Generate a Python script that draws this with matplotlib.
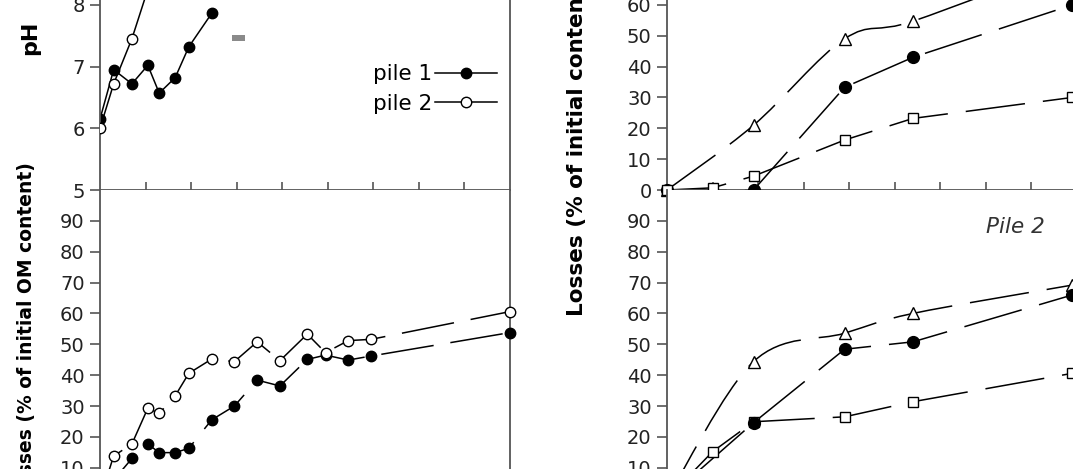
import numpy as np
import matplotlib
matplotlib.use('Agg')
import matplotlib.pyplot as plt
from matplotlib.path import Path
from matplotlib.patches import PathPatch, Rectangle
from matplotlib.lines import Line2D

plt.rcParams['font.family'] = ['DejaVu Sans']
plt.rcParams['lines.scale_dashes'] = False

# ---- left figure: pH and OM losses of the two piles (days of composting) ----
days_left = [0, 6, 14, 21, 26, 33, 39, 49, 59, 69, 79, 91, 99, 109, 119, 180]
ph_pile1 = [6.15, 6.95, 6.72, 7.02, 6.57, 6.82, 7.32, 7.86]
ph_pile2 = [6.0, 6.72, 7.45, 8.25]
om_pile1 = [0, 6, 13, 17.7, 14.9, 14.9, 16.3, 25.5, 30, 38.4, 36.5, 45.1, 46.5, 44.9, 46.2, 53.8]
om_pile2 = [0, 13.8, 17.7, 29.3, 27.6, 33.3, 40.6, 45.2, 44.4, 50.8, 44.7, 53.3, 47.3, 51.2, 51.6, 60.6]

# ---- right figure: losses (% of initial content), three components ----
days_sq = [0, 20, 38, 78, 108, 178]
days_tri = [0, 38, 78, 108, 178]
tri_pile1 = [0, 21, 49, 54.7, 74]
dot_pile1 = [0, 0, 33.3, 43, 60]
sq_pile1 = [0, 0.7, 4.5, 16.2, 23.2, 30]
tri_pile2 = [0, 44.4, 53.6, 60, 69.2]
dot_pile2 = [0, 24.6, 48.4, 50.8, 66]
sq_pile2 = [0, 15.2, 24.9, 26.5, 31.4, 40.6]

ph_ticks = [5, 6, 7, 8, 9]
loss_ticks = list(range(0, 100, 10))
day_ticks = list(range(20, 180, 20))

SPINE = '#555555'
W, H = 1073, 469


def box(x0, x1, y_top, y_bot):
    # pixel box -> figure fraction
    return [x0 / W, 1 - y_bot / H, (x1 - x0) / W, (y_bot - y_top) / H]


def smooth_path(x, y):
    # excel-like smoothed line (cubic bezier through the points)
    p = np.column_stack([x, y]).astype(float)
    n = len(p)
    verts = [p[0]]
    codes = [Path.MOVETO]
    for i in range(n - 1):
        p0 = p[i - 1] if i > 0 else p[i]
        p3 = p[i + 2] if i + 2 < n else p[i + 1]
        verts += [p[i] + (p[i + 1] - p0) / 6, p[i + 1] - (p3 - p[i]) / 6, p[i + 1]]
        codes += [Path.CURVE4] * 3
    return Path(verts, codes)


def dashed(ax, x, y, dash, smooth=False):
    if smooth:
        ax.add_patch(PathPatch(smooth_path(x, y), fill=False, ec='black', lw=1.1,
                               ls=dash, zorder=2))
    else:
        ax.plot(x, y, color='black', lw=1.1, ls=dash, zorder=2)


def marks(ax, x, y, marker, filled, ms):
    ax.plot(x, y, ls='none', marker=marker, ms=ms, mfc='black' if filled else 'white',
            mec='black', mew=1.0, zorder=3, clip_on=False)


def style(ax, top):
    ax.set_xlim(0, 180)
    for s in ax.spines.values():
        s.set_color(SPINE)
        s.set_linewidth(1.3)
    ax.spines['top'].set_visible(False)
    ax.tick_params(axis='y', direction='out', length=7, width=1.2, color=SPINE,
                   labelsize=14, pad=4, labelcolor='#222222')
    if top:
        ax.set_xticks(day_ticks)
        ax.tick_params(axis='x', direction='in', length=6, width=1.2, color=SPINE,
                       labelbottom=False)
    else:
        ax.set_xticks([])


# dash patterns in points (long dashes)
dash_left = (38.2, 12.2)
dash_right = (43, 13)

fig = plt.figure(figsize=(W / 100, H / 100), dpi=100)

ax_ph = fig.add_axes(box(100, 510, -118.6, 190))
ax_om = fig.add_axes(box(100, 510, 190, 498.6))
ax_r1 = fig.add_axes(box(667, 1077, -118.6, 190))
ax_r2 = fig.add_axes(box(667, 1077, 190, 498.6))

# pH
style(ax_ph, True)
ax_ph.set_ylim(5, 10)
ax_ph.set_yticks(ph_ticks)
ax_ph.plot(days_left[:len(ph_pile1)], ph_pile1, color='black', lw=1.1, marker='o', ms=7.5,
           mfc='black', mec='black', zorder=2)
ax_ph.plot(days_left[:len(ph_pile2)], ph_pile2, color='black', lw=1.1, marker='o', ms=7.5,
           mfc='white', mec='black', mew=1.0, zorder=3)
h1 = Line2D([], [], color='black', lw=1.1, marker='o', ms=7.5, mfc='black', mec='black')
h2 = Line2D([], [], color='black', lw=1.1, marker='o', ms=7.5, mfc='white', mec='black')
ax_ph.legend([h1, h2], ['pile 1', 'pile 2'], markerfirst=False, frameon=False,
             loc='center right', bbox_to_anchor=(497 / W, 1 - 89 / H),
             bbox_transform=fig.transFigure, fontsize=15.5, handlelength=2.9,
             handletextpad=0.1, labelspacing=0.45, borderpad=0, borderaxespad=0)

# OM losses
style(ax_om, False)
ax_om.set_ylim(0, 100)
ax_om.set_yticks(loss_ticks)
dashed(ax_om, days_left, om_pile1, (24.5, dash_left))
dashed(ax_om, days_left, om_pile2, (20.2, dash_left))
marks(ax_om, days_left, om_pile1, 'o', True, 7.5)
marks(ax_om, days_left, om_pile2, 'o', False, 7.5)

# right, pile 1
style(ax_r1, True)
ax_r1.set_ylim(0, 100)
ax_r1.set_yticks(loss_ticks)
dashed(ax_r1, days_tri, tri_pile1, (0, dash_right), smooth=True)
dashed(ax_r1, days_tri, dot_pile1, (0, dash_right))
dashed(ax_r1, days_sq, sq_pile1, (0, dash_right))
marks(ax_r1, days_tri, tri_pile1, '^', False, 8)
marks(ax_r1, days_tri, dot_pile1, 'o', True, 8.5)
marks(ax_r1, days_sq, sq_pile1, 's', False, 6.5)

# right, pile 2
style(ax_r2, False)
ax_r2.set_ylim(0, 100)
ax_r2.set_yticks(loss_ticks)
dashed(ax_r2, days_tri, tri_pile2, (0, dash_right), smooth=True)
dashed(ax_r2, days_tri, dot_pile2, (0, dash_right))
dashed(ax_r2, days_sq, sq_pile2, (0, dash_right))
marks(ax_r2, days_sq, sq_pile2, 's', False, 6.5)
marks(ax_r2, days_tri, tri_pile2, '^', False, 8)
marks(ax_r2, days_tri, dot_pile2, 'o', True, 8.5)
ax_r2.text(153, 88, 'Pile 2', fontsize=15.5, style='italic', color='#333333',
           ha='center', va='center')

# axis titles
fig.text(30 / W, 1 - 38 / H, 'pH', rotation=90, fontsize=16, fontweight='bold',
         ha='center', va='center')
fig.text(27 / W, 1 - 331 / H, 'Losses (% of initial OM content)', rotation=90,
         fontsize=13.5, fontweight='bold', ha='center', va='center')
fig.text(577 / W, 1 - 147 / H, 'Losses (% of initial content)', rotation=90,
         fontsize=15.5, fontweight='bold', ha='center', va='center')

# small grey mark left over in the scanned figure
fig.add_artist(Rectangle((232 / W, 1 - 41 / H), 13 / W, 6 / H, color='#8a8a8a', lw=0))

fig.savefig('out.png', dpi=100)
